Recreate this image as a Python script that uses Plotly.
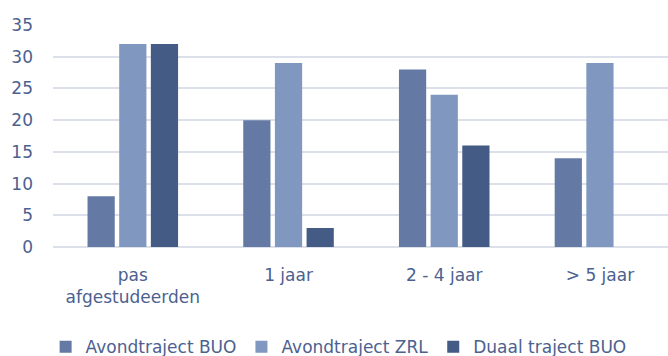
import plotly.graph_objects as go

categories = ["pas<br>afgestudeerden", "1 jaar", "2 - 4 jaar", "> 5 jaar"]
series_names = ["Avondtraject BUO", "Avondtraject ZRL", "Duaal traject BUO"]
avond_buo = [8, 20, 28, 14]
avond_zrl = [32, 29, 24, 29]
duaal_buo = [32, 3, 16, None]
colors = ["#647AA4", "#8097BF", "#435B85"]

W, H = 668, 356
fig = go.Figure()
for name, vals, col in zip(series_names, [avond_buo, avond_zrl, duaal_buo], colors):
    fig.add_trace(go.Bar(x=list(range(len(categories))), y=vals, name=name,
                         marker=dict(color=col, line=dict(width=0))))

font = dict(family="DejaVu Sans, sans-serif", size=17, color="#4C6190")
fig.update_layout(
    width=W, height=H,
    margin=dict(l=53, r=0, t=25, b=109, autoexpand=False),
    paper_bgcolor="white", plot_bgcolor="white",
    barmode="group", bargap=0.39, bargroupgap=0.14,
    font=font,
    showlegend=True,
    legend=dict(orientation="h", x=-0.012, xanchor="left", y=-0.37, yanchor="top",
                font=dict(family="DejaVu Sans, sans-serif", size=17, color="#4C6190"),
                itemwidth=30, traceorder="normal"),
    xaxis=dict(tickmode="array", tickvals=list(range(len(categories))), ticktext=categories,
               range=[-0.5125, 3.437], showgrid=False, zeroline=False, showline=False,
               ticks="", tickfont=font, ticklabelstandoff=16, automargin=False),
    yaxis=dict(range=[0, 35], dtick=5, tick0=0, showgrid=True, gridcolor="#DCE0EB",
               gridwidth=1.5, zeroline=True, zerolinecolor="#DCE0EB", zerolinewidth=1.5,
               showline=False, ticks="", tickfont=font, ticklabelstandoff=19,
               automargin=False),
)
fig.write_html("out.html")
